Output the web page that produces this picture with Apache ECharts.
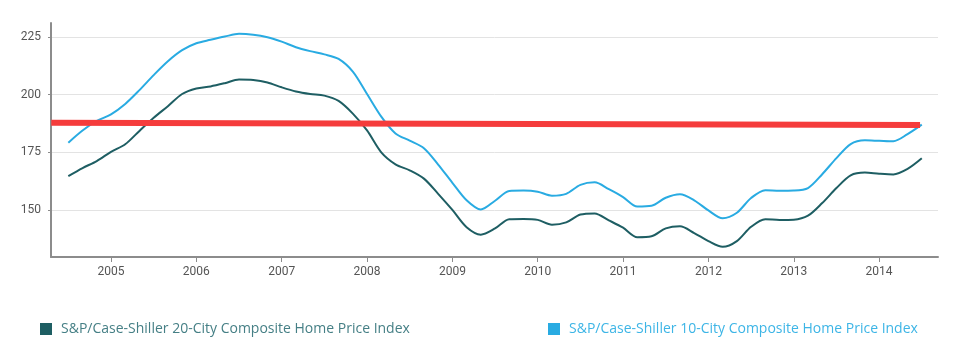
<!DOCTYPE html>
<html>
<head>
<meta charset="utf-8">
<style>
  html, body { margin: 0; padding: 0; background: #fff; }
  #chart { width: 959px; height: 352px; }
</style>
<script src="https://cdn.jsdelivr.net/npm/echarts@6/dist/echarts.min.js"></script>
</head>
<body>
<div id="chart"></div>
<script>
// bi-monthly readings, mid 2004 - mid 2014
const months = [
  "2004-07", "2004-09", "2004-11",
  "2005-01", "2005-03", "2005-05", "2005-07", "2005-09", "2005-11",
  "2006-01", "2006-03", "2006-05", "2006-07", "2006-09", "2006-11",
  "2007-01", "2007-03", "2007-05", "2007-07", "2007-09", "2007-11",
  "2008-01", "2008-03", "2008-05", "2008-07", "2008-09", "2008-11",
  "2009-01", "2009-03", "2009-05", "2009-07", "2009-09", "2009-11",
  "2010-01", "2010-03", "2010-05", "2010-07", "2010-09", "2010-11",
  "2011-01", "2011-03", "2011-05", "2011-07", "2011-09", "2011-11",
  "2012-01", "2012-03", "2012-05", "2012-07", "2012-09", "2012-11",
  "2013-01", "2013-03", "2013-05", "2013-07", "2013-09", "2013-11",
  "2014-01", "2014-03", "2014-05", "2014-07"
];
const city20 = [
  164.7, 168.2, 171.2,
  175.2, 178.5, 184.3, 190.0, 195.0, 200.3,
  202.7, 203.6, 205.0, 206.6, 206.4, 205.3,
  203.2, 201.4, 200.3, 199.6, 197.3, 191.8,
  184.5, 175.0, 169.8, 167.2, 163.6, 157.0,
  150.0, 142.5, 139.3, 142.0, 146.0, 146.1,
  145.7, 143.6, 144.6, 148.0, 148.5, 145.5,
  142.3, 138.2, 138.6, 142.0, 142.9, 140.0,
  136.5, 134.0, 136.5, 142.7, 146.0, 145.7,
  145.8, 147.5, 153.0, 159.5, 165.0, 166.2,
  165.7, 165.4, 167.8, 172.4
];
const city10 = [
  179.2, 184.5, 188.6,
  191.5, 196.0, 202.0, 208.5, 214.5, 219.3,
  222.3, 223.8, 225.2, 226.4, 226.0, 224.9,
  223.0, 220.6, 218.9, 217.5, 215.5, 210.0,
  200.3, 190.5, 183.2, 180.1, 176.8, 169.7,
  161.8, 154.2, 150.2, 154.0, 158.2, 158.4,
  157.9, 156.2, 157.0, 160.9, 162.0, 159.0,
  155.6, 151.5, 151.8, 155.3, 156.8, 154.2,
  149.8, 146.4, 148.8, 155.2, 158.6, 158.3,
  158.4, 159.5, 165.5, 172.5, 178.6, 180.2,
  180.0, 179.8, 182.9, 187.0
];
// red reference line (start / end)
const trendX = [2004.3, 2014.48];
const trendY = [187.8, 186.9];

const yearTicks = [2005, 2006, 2007, 2008, 2009, 2010, 2011, 2012, 2013, 2014];
const valueTicks = [150, 175, 200, 225];

const name20 = "S&P/Case-Shiller 20-City Composite Home Price Index";
const name10 = "S&P/Case-Shiller 10-City Composite Home Price Index";

function toYear(m) {
  const p = m.split("-");
  return +p[0] + (+p[1] - 1) / 12;
}
const pairs = (vals) => months.map((m, i) => [toYear(m), vals[i]]);

const chart = echarts.init(document.getElementById("chart"));
chart.setOption({
  animation: false,
  textStyle: { fontFamily: "Roboto" },
  grid: { left: 51, right: 21, top: 23, bottom: 95 },
  legend: [
    {
      data: [name20], left: 40, top: 322, icon: "rect", padding: 0,
      itemWidth: 12, itemHeight: 12,
      textStyle: { color: "#457f85", fontSize: 14, fontFamily: "Open Sans", padding: [0, 0, 0, 4] }
    },
    {
      data: [name10], left: 548, top: 322, icon: "rect", padding: 0,
      itemWidth: 12, itemHeight: 12,
      textStyle: { color: "#3db5e6", fontSize: 14, fontFamily: "Open Sans", padding: [0, 0, 0, 4] }
    }
  ],
  xAxis: {
    type: "value",
    min: 2004.297,
    max: 2014.69,
    axisLine: { lineStyle: { color: "#8c8c8c", width: 2 } },
    axisTick: { customValues: yearTicks, length: 5, lineStyle: { color: "#8c8c8c" } },
    axisLabel: {
      customValues: yearTicks, color: "#555", fontSize: 12, margin: 9,
      formatter: (v) => String(v)
    },
    splitLine: { show: false }
  },
  yAxis: {
    type: "value",
    min: 129.6,
    max: 231.1,
    axisLine: { show: true, lineStyle: { color: "#8c8c8c", width: 2 } },
    axisTick: { show: true, customValues: valueTicks, length: 3, lineStyle: { color: "#8c8c8c" } },
    axisLabel: { customValues: valueTicks, color: "#555", fontSize: 12, margin: 10 },
    splitLine: { show: true, lineStyle: { color: "#e3e3e3", width: 1 } }
  },
  series: [
    {
      name: name20, type: "line", data: pairs(city20),
      smooth: 0.3, showSymbol: false,
      itemStyle: { color: "#1e5e63" },
      lineStyle: { color: "#1e5e63", width: 2 }
    },
    {
      name: name10, type: "line", data: pairs(city10),
      smooth: 0.3, showSymbol: false,
      itemStyle: { color: "#29abe2" },
      lineStyle: { color: "#29abe2", width: 2 }
    },
    {
      name: "trend", type: "line", z: 5,
      data: trendX.map((x, i) => [x, trendY[i]]),
      showSymbol: false,
      lineStyle: { color: "#f53c3c", width: 6 }
    }
  ]
});
</script>
</body>
</html>
